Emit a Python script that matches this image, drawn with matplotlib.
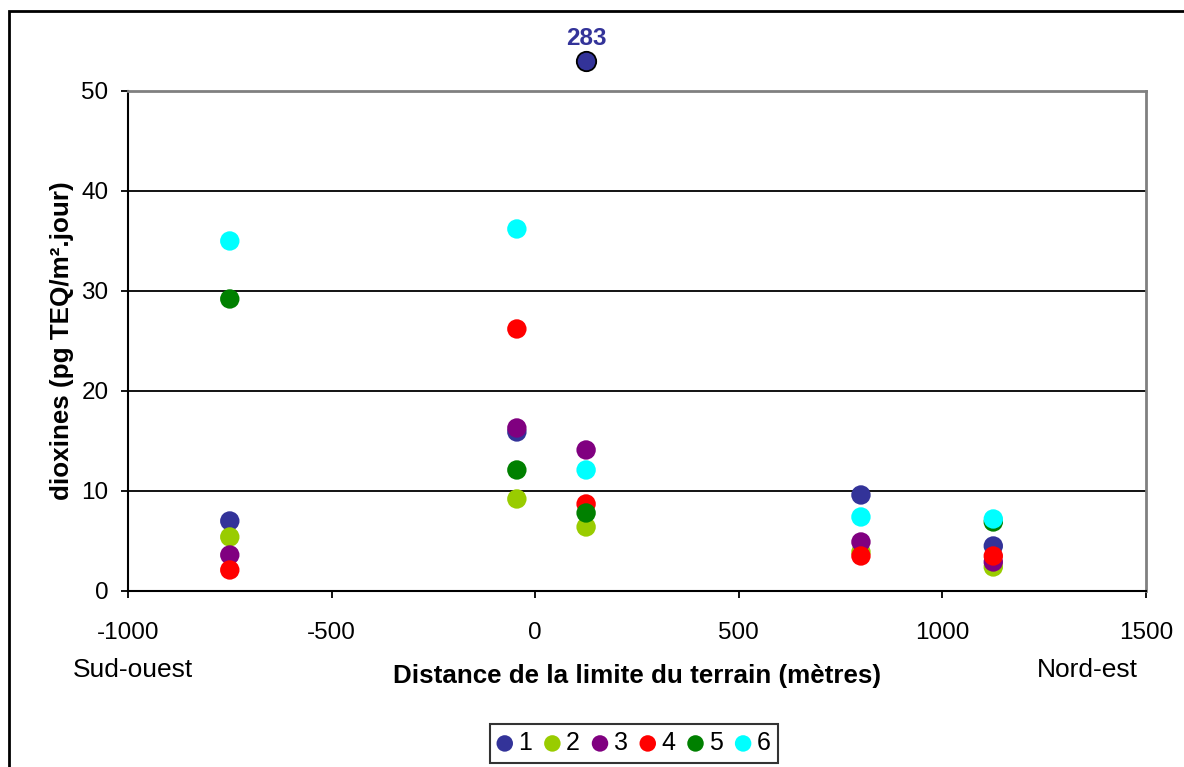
import numpy as np
import matplotlib
matplotlib.use("Agg")
import matplotlib.pyplot as plt
from matplotlib.patches import Rectangle

plt.rcParams['font.family'] = ['Liberation Sans', 'DejaVu Sans']
plt.rcParams['axes.unicode_minus'] = False

# distance from the site boundary (m), one per sampling spot
distance = [-750, -45, 125, 800, 1125]

# dioxin deposits (pg TEQ/m2.day) per campaign, nan = no sample
serie_1 = [7.0, 15.9, 283.0, 9.6, 4.5]
serie_2 = [5.4, 9.2, 6.4, 3.9, 2.4]
serie_3 = [3.6, 16.3, 14.1, 4.9, 2.9]
serie_4 = [2.1, 26.2, 8.7, 3.5, 3.5]
serie_5 = [29.2, 12.1, 7.8, np.nan, 6.9]
serie_6 = [35.0, 36.2, 12.1, 7.4, 7.2]

series = [serie_1, serie_2, serie_3, serie_4, serie_5, serie_6]
labels = ['1', '2', '3', '4', '5', '6']
colors = ['#333399', '#99CC00', '#800080', '#FF0000', '#008000', '#00FFFF']

y_max = 50
cap = 53  # off-scale values are drawn just above the plot area

fig = plt.figure(figsize=(11.84, 7.67), dpi=100)
ax = fig.add_axes([0.1081, 0.2295, 0.8598, 0.6519])

for vals, lab, col in zip(series, labels, colors):
    vals = np.array(vals, dtype=float)
    x = np.array(distance, dtype=float)
    over = vals > y_max
    ax.scatter(x[~over], vals[~over], s=195, color=col, edgecolors='none',
               label=lab, zorder=3)
    for xi, vi in zip(x[over], vals[over]):
        ax.scatter([xi], [cap], s=195, color=col, edgecolors='black',
                   linewidths=1.3, zorder=4, clip_on=False)
        ax.text(xi, cap + 1.1, '%d' % vi, color=col, fontsize=17.5,
                fontweight='bold', ha='center', va='bottom')

ax.set_xlim(-1000, 1500)
ax.set_ylim(0, y_max)
ax.set_xticks(np.arange(-1000, 1501, 500))
ax.set_yticks(np.arange(0, 51, 10))
ax.yaxis.grid(True, color='black', linewidth=1.3)
ax.set_axisbelow(True)
ax.tick_params(direction='out', length=5, width=1.3, labelsize=17.5, color='black')
ax.tick_params(axis='y', pad=9)
ax.tick_params(axis='x', pad=17)

for side in ['left', 'bottom']:
    ax.spines[side].set_color('black')
    ax.spines[side].set_linewidth(1.5)
for side in ['top', 'right']:
    ax.spines[side].set_color('#808080')
    ax.spines[side].set_linewidth(2)

ax.set_xlabel('Distance de la limite du terrain (mètres)', fontsize=18.7,
              fontweight='bold', labelpad=15)
ax.set_ylabel('dioxines (pg TEQ/m².jour)', fontsize=18.7, fontweight='bold',
              labelpad=5)

fig.text(133 / 1184, 1 - 670 / 767, 'Sud-ouest', fontsize=19, ha='center', va='center')
fig.text(1087 / 1184, 1 - 670 / 767, 'Nord-est', fontsize=19, ha='center', va='center')

leg = ax.legend(loc='center', bbox_to_anchor=(634 / 1184, 1 - 743 / 767),
                bbox_transform=fig.transFigure, ncol=6, fontsize=18,
                frameon=True, fancybox=False, edgecolor='black',
                handlelength=0.6, handletextpad=0.25, columnspacing=0.5,
                borderpad=0.3, borderaxespad=0, markerscale=0.85)
leg.get_frame().set_linewidth(1.5)

# chart area border
fig.patches.append(Rectangle((9 / 1184, -0.1), 1.2, 1 - 11 / 767 + 0.1,
                             transform=fig.transFigure, fill=False,
                             edgecolor='black', linewidth=2))

fig.savefig('out.png', dpi=100)
